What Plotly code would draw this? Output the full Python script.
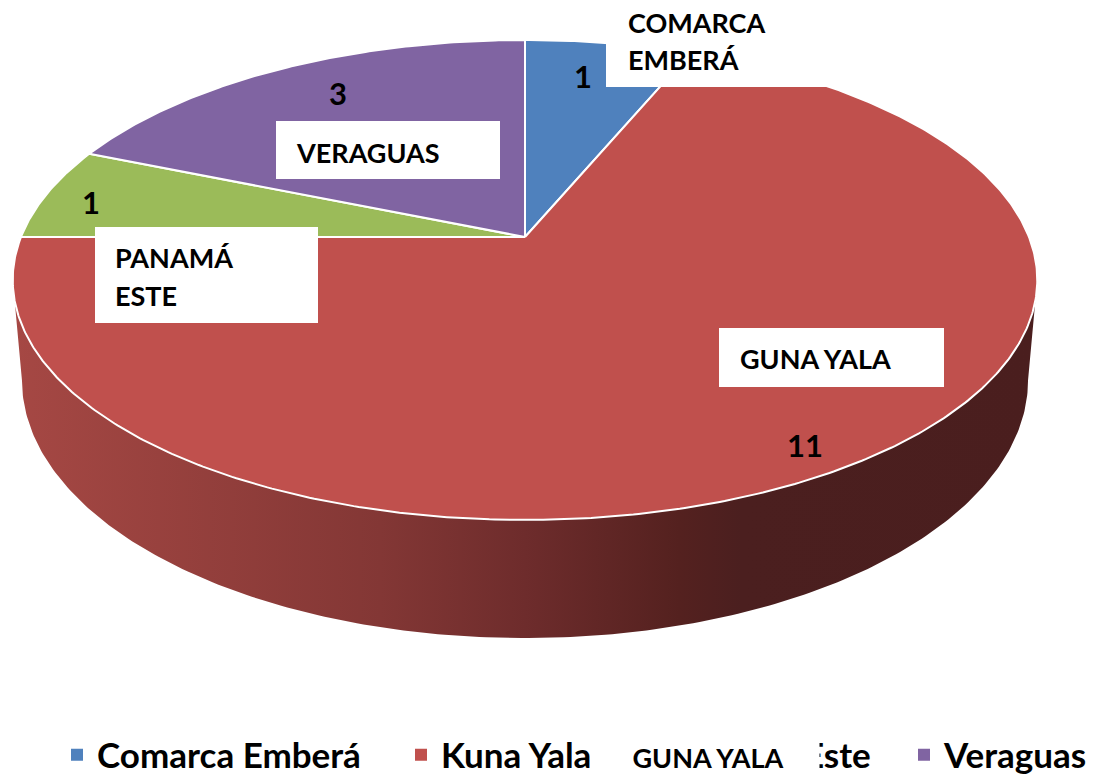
import numpy as np
import plotly.graph_objects as go

# ---------------- data ----------------
categories = ["Comarca Emberá", "Kuna Yala", "Panamá Este", "Veraguas"]
values = [1, 11, 1, 3]
box_labels = [["COMARCA", "EMBERÁ"], ["GUNA YALA"], ["PANAMÁ", "ESTE"], ["VERAGUAS"]]
colors = ["#4F81BD", "#C0504D", "#9BBB59", "#8064A2"]
legend_cover_text = "GUNA YALA"

# ---------------- geometry of the 3-D pie (page pixel space) ----------------
W, H = 1096, 775
OFF = 8  # page body margin
CX, CY, A, B, K = 525.0, 237.0, 504.0, 232.3, 0.179
DEPTH = 97.0
BOT_SCALE = 0.982
FONT = "Lato"


def proj(theta_deg, r=1.0, bottom=False):
    t = np.radians(np.asarray(theta_deg, dtype=float))
    X = r * np.sin(t)
    Y = r * np.cos(t)
    s = 1.0 / (1.0 + K * Y)
    x = CX + A * X * s
    y = CY - B * Y * s
    if bottom:
        x = CX + (x - CX) * BOT_SCALE
        y = y + DEPTH * s
    return x, y


total = float(sum(values))
angles = np.cumsum([0] + [v / total * 360.0 for v in values])

fig = go.Figure()

# side wall (front, visible part)
th_r = 90 + np.degrees(np.arcsin(K))
th_l = 270 - np.degrees(np.arcsin(K))
arc = np.linspace(th_r, th_l, 240)
xt, yt = proj(arc)
xb, yb = proj(arc[::-1], bottom=True)
fig.add_trace(go.Scatter(
    x=np.concatenate([xt, xb, xt[:1]]), y=np.concatenate([yt, yb, yt[:1]]),
    mode="lines", fill="toself", line=dict(width=0),
    fillgradient=dict(type="horizontal", start=10, stop=1040,
                      colorscale=[[0.0, "#A64844"], [0.36, "#833735"],
                                  [0.50, "#6E2C2C"], [0.65, "#54211F"],
                                  [0.71, "#4B1F1F"], [1.0, "#4A1E1E"]]),
    hoverinfo="skip", showlegend=False))

# top face slices
for i, cat in enumerate(categories):
    a0, a1 = angles[i], angles[i + 1]
    n = max(8, int((a1 - a0) * 2))
    th = np.linspace(a0, a1, n)
    xs, ys = proj(th)
    fig.add_trace(go.Scatter(
        x=np.concatenate([[CX], xs, [CX]]), y=np.concatenate([[CY], ys, [CY]]),
        mode="lines", fill="toself", fillcolor=colors[i],
        line=dict(color="white", width=2), hoverinfo="skip",
        showlegend=False, name=cat))

# legend entries (one legend per entry so that spacing matches)
legend_names = ["legend", "legend2", "legend3", "legend4"]
legend_marker_x = [78, 422, 653, 925]
for i, cat in enumerate(categories):
    fig.add_trace(go.Scatter(
        x=[None], y=[None], mode="markers", name=cat,
        marker=dict(symbol="square", size=12, color=colors[i]),
        legend=legend_names[i], showlegend=True))

legend_font = dict(family=FONT, size=35, color="black", weight="bold")
legend_layouts = {}
for i, ln in enumerate(legend_names):
    legend_layouts[ln] = dict(
        x=(legend_marker_x[i] - OFF - 21) / W, xanchor="left",
        y=1 - (755 - OFF) / H, yanchor="middle", orientation="h",
        font=legend_font, bgcolor="rgba(0,0,0,0)", borderwidth=0,
        itemclick=False, itemdoubleclick=False)

# white label boxes
box_rects = [(606, -5, 842, 87), (719, 328, 944, 387), (95, 227, 318, 323), (276, 121, 500, 179)]
text_x = [626, 738, 113, 294]
text_y = [[22, 59], [358], [257, 295], [152]]

shapes = []
annotations = []
for i, (x0, y0, x1, y1) in enumerate(box_rects):
    shapes.append(dict(type="rect", xref="x", yref="y", x0=x0, y0=y0, x1=x1, y1=y1,
                       fillcolor="white", line=dict(width=0), layer="above"))
    for line, yy in zip(box_labels[i], text_y[i]):
        annotations.append(dict(x=text_x[i], y=yy, xref="x", yref="y", text=line,
                                showarrow=False, xanchor="left", yanchor="middle",
                                font=dict(family=FONT, size=27, color="black", weight="bold")))

# value labels
value_pos = [(583, 76), (805, 445), (91, 202), (338, 93)]
for i, v in enumerate(values):
    annotations.append(dict(x=value_pos[i][0], y=value_pos[i][1], xref="x", yref="y",
                            text=str(v), showarrow=False, xanchor="center", yanchor="middle",
                            font=dict(family=FONT, size=31, color="black", weight="bold")))

# white box covering part of the legend
annotations.append(dict(x=708, y=757, xref="x", yref="y", text=legend_cover_text,
                        showarrow=False, xanchor="center", yanchor="middle",
                        width=220, height=46, bgcolor="white",
                        font=dict(family=FONT, size=27, color="black", weight="bold")))

fig.update_layout(
    width=W, height=H, margin=dict(l=0, r=0, t=0, b=0, autoexpand=False),
    paper_bgcolor="white", plot_bgcolor="white",
    xaxis=dict(range=[OFF, W + OFF], visible=False, fixedrange=True),
    yaxis=dict(range=[H + OFF, OFF], visible=False, fixedrange=True),
    shapes=shapes, annotations=annotations,
    **legend_layouts)

fig.write_html("out.html")
